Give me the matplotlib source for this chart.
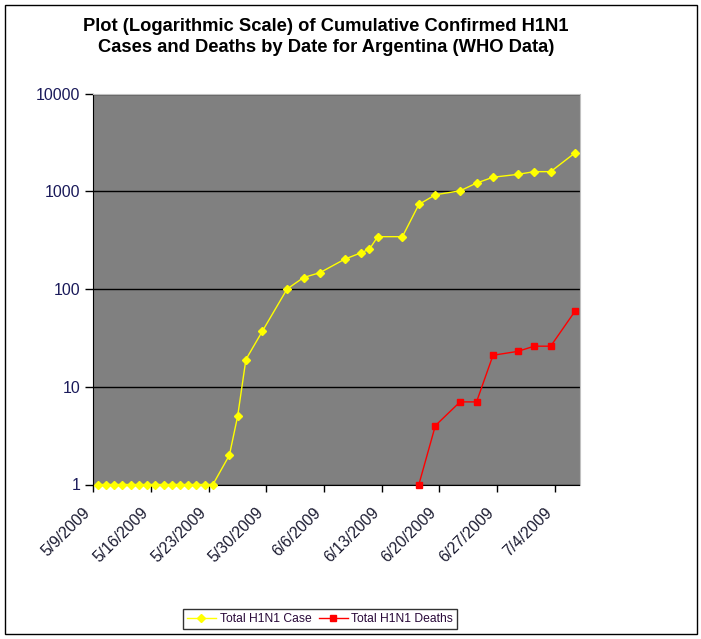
import numpy as np
import matplotlib
matplotlib.use("Agg")
import matplotlib.pyplot as plt
from matplotlib.patches import Rectangle
from matplotlib.ticker import FixedLocator, NullLocator, FixedFormatter

plt.rcParams['font.family'] = ['Liberation Sans', 'DejaVu Sans']

# WHO cumulative data, Argentina
case_dates = ['2009-05-09', '2009-05-10', '2009-05-11', '2009-05-12', '2009-05-13',
              '2009-05-14', '2009-05-15', '2009-05-16', '2009-05-17', '2009-05-18',
              '2009-05-19', '2009-05-20', '2009-05-21', '2009-05-22', '2009-05-23',
              '2009-05-25', '2009-05-26', '2009-05-27', '2009-05-29', '2009-06-01',
              '2009-06-03', '2009-06-05', '2009-06-08', '2009-06-10', '2009-06-11',
              '2009-06-12', '2009-06-15', '2009-06-17', '2009-06-19', '2009-06-22',
              '2009-06-24', '2009-06-26', '2009-06-29', '2009-07-01', '2009-07-03',
              '2009-07-06']
case_values = [1, 1, 1, 1, 1, 1, 1, 1, 1, 1, 1, 1, 1, 1, 1,
               2, 5, 19, 37, 100, 131, 147, 202, 235, 256, 343, 343,
               733, 921, 1010, 1213, 1391, 1488, 1587, 1587, 2485]

death_dates = ['2009-06-17', '2009-06-19', '2009-06-22', '2009-06-24', '2009-06-26',
               '2009-06-29', '2009-07-01', '2009-07-03', '2009-07-06']
death_values = [1, 4, 7, 7, 21, 23, 26, 26, 60]

tick_dates = ['2009-05-09', '2009-05-16', '2009-05-23', '2009-05-30', '2009-06-06',
              '2009-06-13', '2009-06-20', '2009-06-27', '2009-07-04']
tick_labels = ['5/9/2009', '5/16/2009', '5/23/2009', '5/30/2009', '6/6/2009',
               '6/13/2009', '6/20/2009', '6/27/2009', '7/4/2009']
y_ticks = [1, 10, 100, 1000, 10000]
y_labels = ['1', '10', '100', '1000', '10000']

start = np.datetime64('2009-05-09')
end = np.datetime64('2009-07-07')


def day_num(dates):
    # days since start; points sit in the middle of their day slot
    return (np.array(dates, dtype='datetime64[D]') - start).astype(float) + 0.5


W, H = 701, 639
fig = plt.figure(figsize=(W / 100, H / 100), dpi=100)
fig.patch.set_facecolor('white')

ax = fig.add_axes([93.5 / W, 1 - 484.5 / H, 486 / W, 391 / H])
ax.set_facecolor('#808080')

ax.plot(day_num(case_dates), case_values, color='#ffff00', lw=1,
        marker='D', ms=4.5, mec='#ffff00', mfc='#ffff00', label='Total H1N1 Case',
        clip_on=False, zorder=3)
ax.plot(day_num(death_dates), death_values, color='#ff0000', lw=1,
        marker='s', ms=5, mec='#ff0000', mfc='#ff0000', label='Total H1N1 Deaths',
        clip_on=False, zorder=3)

ax.set_yscale('log')
ax.set_ylim(1, 10000)
ax.set_xlim(0, (end - start).astype(float))

ax.yaxis.set_major_locator(FixedLocator(y_ticks))
ax.yaxis.set_major_formatter(FixedFormatter(y_labels))
ax.yaxis.set_minor_locator(NullLocator())
ax.xaxis.set_major_locator(FixedLocator((np.array(tick_dates, dtype='datetime64[D]') - start).astype(float)))
ax.xaxis.set_major_formatter(FixedFormatter(tick_labels))

ax.grid(axis='y', color='black', lw=1)
ax.set_axisbelow(True)

ax.tick_params(axis='y', direction='out', length=5.5, width=1, pad=4,
               labelsize=11.5, labelcolor='#1a1a5a')
ax.tick_params(axis='x', direction='out', length=5, width=1, pad=9.5,
               labelsize=11.3, labelcolor='#1a1a30')
for lab in ax.get_xticklabels():
    lab.set_rotation(45)
    lab.set_ha('right')
    lab.set_va('top')

for side in ['top', 'right']:
    ax.spines[side].set_color('#c0c0c0')
for side in ['left', 'bottom']:
    ax.spines[side].set_color('black')

fig.text(326 / W, 1 - 18 / H,
         'Plot (Logarithmic Scale) of Cumulative Confirmed H1N1\n'
         'Cases and Deaths by Date for Argentina (WHO Data)',
         ha='center', va='top', fontsize=13.2, fontweight='bold',
         linespacing=1.3, color='black')

leg = fig.legend(loc='center', bbox_to_anchor=(320 / W, 1 - 619 / H), ncol=2,
                 fontsize=8.7, frameon=True, fancybox=False, edgecolor='black',
                 handlelength=2.4, handletextpad=0.3, columnspacing=0.6,
                 borderpad=0.35, borderaxespad=0)
leg.get_frame().set_linewidth(1)
for t in leg.get_texts():
    t.set_color('#2a0a3a')

fig.patches.append(Rectangle((5 / W, 5 / H), 692 / W, 629 / H, transform=fig.transFigure,
                             fill=False, edgecolor='black', lw=1))

fig.savefig('out.png', dpi=100)
